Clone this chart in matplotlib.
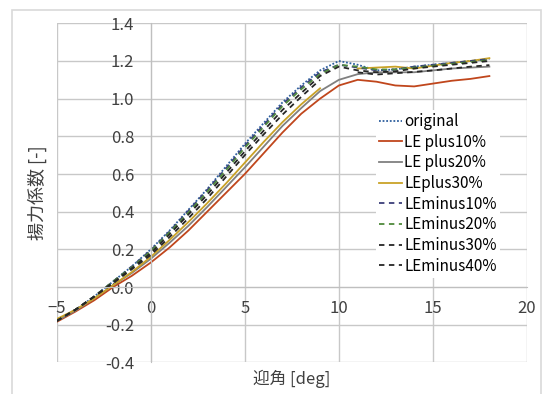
import numpy as np
import matplotlib.pyplot as plt
from matplotlib.patches import Rectangle

plt.rcParams['font.family'] = ['Noto Sans CJK JP', 'DejaVu Sans']

nan = np.nan
aoa = list(range(-5, 19))

original = [-0.18, -0.12, -0.05, 0.03, 0.11, 0.20, 0.30, 0.41, 0.52, 0.64, 0.76, 0.87,
            0.98, 1.07, 1.15, 1.20, 1.18, 1.15, 1.155, 1.17, 1.18, 1.19, 1.20, 1.21]
le_plus10 = [-0.185, -0.13, -0.07, 0.0, 0.06, 0.13, 0.21, 0.30, 0.40, 0.50, 0.60, 0.71,
             0.82, 0.92, 1.00, 1.07, 1.10, 1.09, 1.07, 1.065, 1.08, 1.095, 1.105, 1.12]
le_plus20 = [-0.18, -0.125, -0.06, 0.01, 0.075, 0.15, 0.235, 0.325, 0.425, 0.53, 0.635, 0.745,
             0.855, 0.95, 1.04, 1.10, 1.13, 1.14, 1.14, 1.14, 1.15, 1.16, 1.165, 1.17]
le_plus30 = [-0.17, -0.12, -0.06, 0.01, 0.08, 0.16, 0.25, 0.345, 0.445, 0.55, 0.66, 0.77,
             0.875, 0.97, 1.055, nan, 1.16, 1.165, 1.17, 1.16, 1.175, 1.19, 1.20, 1.215]
le_minus10 = [-0.18, -0.12, -0.05, 0.03, 0.11, 0.195, 0.295, 0.405, 0.515, 0.63, 0.75, 0.86,
              0.97, 1.06, 1.14, 1.18, 1.165, 1.15, 1.155, 1.17, 1.18, 1.19, 1.20, 1.21]
le_minus20 = [-0.18, -0.12, -0.05, 0.03, 0.105, 0.19, 0.29, 0.395, 0.505, 0.62, 0.74, 0.85,
              0.96, 1.05, 1.13, 1.18, 1.17, 1.155, 1.155, 1.165, 1.175, 1.185, 1.195, 1.205]
le_minus30 = [-0.18, -0.12, -0.05, 0.025, 0.10, 0.18, 0.28, 0.385, 0.49, 0.605, 0.72, 0.83,
              0.94, 1.03, 1.12, 1.17, 1.15, 1.14, 1.145, 1.16, 1.17, 1.18, 1.19, 1.20]
le_minus40 = [-0.18, -0.12, -0.05, 0.02, 0.095, 0.17, 0.265, 0.365, 0.47, 0.585, 0.70, 0.81,
              0.915, 1.01, 1.10, nan, 1.14, 1.128, 1.135, 1.142, 1.15, 1.16, 1.17, 1.178]

labels = ['original', 'LE plus10%', 'LE plus20%', 'LEplus30%',
          'LEminus10%', 'LEminus20%', 'LEminus30%', 'LEminus40%']
series = [original, le_plus10, le_plus20, le_plus30,
          le_minus10, le_minus20, le_minus30, le_minus40]
colors = ['#2e5f9e', '#c0461c', '#808080', '#c9a227',
          '#3b3f7a', '#4f8a3c', '#262626', '#262626']
styles = [(0, (1, 1)), '-', '-', '-',
          (0, (3, 2.5)), (0, (3, 2.5)), (0, (3, 2.5)), (0, (3, 2.5))]

fig = plt.figure(figsize=(5.44, 3.94), dpi=100)
ax = fig.add_axes([56.7 / 544, 1 - 362.4 / 394, 470.3 / 544, 339.1 / 394])

# outer chart frame
fig.patches.append(Rectangle((12 / 544, -0.02), 528.7 / 544, 1 - 10 / 394 + 0.02,
                             transform=fig.transFigure, fill=False,
                             edgecolor='#d9d9d9', linewidth=1.2))

for y, lab, c, ls in zip(series, labels, colors, styles):
    ax.plot(aoa, y, color=c, linestyle=ls, linewidth=1.3, label=lab)

ax.set_xlim(-5, 20)
ax.set_ylim(-0.4, 1.4)
ax.set_xticks([-5, 0, 5, 10, 15, 20])
ax.set_yticks(np.arange(-0.4, 1.41, 0.2))
ax.set_yticklabels(['-0.4', '-0.2', '0.0', '0.2', '0.4', '0.6', '0.8', '1.0', '1.2', '1.4'])
ax.grid(True, color='#c8c8c8', linewidth=1.0)
ax.set_axisbelow(True)

for s in ['top', 'right']:
    ax.spines[s].set_visible(False)
ax.spines['left'].set_position(('data', 0))
ax.spines['bottom'].set_position(('data', 0))
ax.spines['left'].set_color('#bfbfbf')
ax.spines['bottom'].set_color('#bfbfbf')
ax.tick_params(axis='y', length=0, pad=12, labelsize=12, labelcolor='#404040')
ax.tick_params(axis='x', length=0, pad=9, labelsize=12, labelcolor='#404040')

ax.set_xlabel('迎角 [deg]', fontsize=12, color='#404040')
ax.xaxis.set_label_coords(0.5, -0.022)
ax.set_ylabel('揚力係数 [-]', fontsize=13, color='#404040')
ax.yaxis.set_label_coords(-0.02, 0.5)

leg = ax.legend(loc='upper left', bbox_to_anchor=((376 - 56.7) / 470.3, (362.4 - 110) / 339.1),
                frameon=True, fontsize=11, handlelength=1.5, handletextpad=0.15,
                labelspacing=0.24, borderpad=0.2, borderaxespad=0)
leg.get_frame().set_edgecolor('none')
leg.get_frame().set_facecolor('white')
leg.get_frame().set_alpha(1)

fig.savefig('out.png', dpi=100)
